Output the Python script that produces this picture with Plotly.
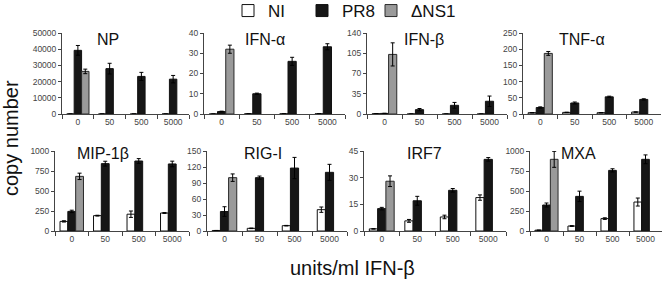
import plotly.graph_objects as go

doses = ["0", "50", "500", "5000"]
series_names = ["NI", "PR8", "ΔNS1"]

panels = ["NP", "IFN-α", "IFN-β", "TNF-α", "MIP-1β", "RIG-I", "IRF7", "MXA"]

# values per panel: NI, PR8, ΔNS1 (ΔNS1 only measured at dose 0)
np_ni = [0, 0, 0, 0]
np_pr8 = [39300, 28000, 23200, 21500]
np_dns1 = [26300, None, None, None]
np_ni_err = [0, 0, 0, 0]
np_pr8_err = [3000, 3300, 2500, 2300]
np_dns1_err = [1400, 0, 0, 0]

ifna_ni = [0, 0.1, 0.1, 0.1]
ifna_pr8 = [1.2, 10, 26, 33.2]
ifna_dns1 = [32, None, None, None]
ifna_ni_err = [0, 0, 0, 0]
ifna_pr8_err = [0.2, 0.3, 2, 1.5]
ifna_dns1_err = [2, 0, 0, 0]

ifnb_ni = [0.5, 0, 0, 0]
ifnb_pr8 = [1, 7.5, 15, 22]
ifnb_dns1 = [103, None, None, None]
ifnb_ni_err = [0, 0, 0, 0]
ifnb_pr8_err = [0.3, 2, 5, 9]
ifnb_dns1_err = [20, 0, 0, 0]

tnfa_ni = [4, 5, 4, 6]
tnfa_pr8 = [20, 34, 53, 45]
tnfa_dns1 = [187, None, None, None]
tnfa_ni_err = [0.5, 0.5, 0.5, 0.5]
tnfa_pr8_err = [2, 3, 2, 2]
tnfa_dns1_err = [6, 0, 0, 0]

mip_ni = [120, 192, 210, 225]
mip_pr8 = [245, 842, 875, 838]
mip_dns1 = [683, None, None, None]
mip_ni_err = [8, 5, 40, 5]
mip_pr8_err = [15, 30, 30, 35]
mip_dns1_err = [40, 0, 0, 0]

rig_ni = [1, 5, 10, 40]
rig_pr8 = [36.5, 100, 118, 110]
rig_dns1 = [100, None, None, None]
rig_ni_err = [0, 0.5, 0.5, 5]
rig_pr8_err = [9, 3, 20, 15]
rig_dns1_err = [7, 0, 0, 0]

irf_ni = [1.2, 5.7, 7.9, 18.8]
irf_pr8 = [12.6, 17, 22.9, 40.3]
irf_dns1 = [28, None, None, None]
irf_ni_err = [0.1, 0.8, 1, 1.5]
irf_pr8_err = [0.7, 2.5, 1, 1]
irf_dns1_err = [3, 0, 0, 0]

mxa_ni = [10, 62, 155, 362]
mxa_pr8 = [325, 433, 758, 896]
mxa_dns1 = [896, None, None, None]
mxa_ni_err = [0, 5, 10, 50]
mxa_pr8_err = [25, 65, 20, 55]
mxa_dns1_err = [100, 0, 0, 0]

y_max = [50000, 40, 140, 250, 1000, 150, 45, 1000]
y_dtick = [10000, 10, 35, 50, 250, 30, 15, 250]

panel_data = [
    (np_ni, np_pr8, np_dns1, np_ni_err, np_pr8_err, np_dns1_err),
    (ifna_ni, ifna_pr8, ifna_dns1, ifna_ni_err, ifna_pr8_err, ifna_dns1_err),
    (ifnb_ni, ifnb_pr8, ifnb_dns1, ifnb_ni_err, ifnb_pr8_err, ifnb_dns1_err),
    (tnfa_ni, tnfa_pr8, tnfa_dns1, tnfa_ni_err, tnfa_pr8_err, tnfa_dns1_err),
    (mip_ni, mip_pr8, mip_dns1, mip_ni_err, mip_pr8_err, mip_dns1_err),
    (rig_ni, rig_pr8, rig_dns1, rig_ni_err, rig_pr8_err, rig_dns1_err),
    (irf_ni, irf_pr8, irf_dns1, irf_ni_err, irf_pr8_err, irf_dns1_err),
    (mxa_ni, mxa_pr8, mxa_dns1, mxa_ni_err, mxa_pr8_err, mxa_dns1_err),
]

W, H = 662, 282
FONT = "Liberation Sans, Arial, sans-serif"

# pixel layout of each panel: (left, right, top, bottom)
px_boxes = [
    (62, 189, 33, 114), (204, 345, 33, 114), (367, 507, 33, 114), (523, 661, 33, 114),
    (55, 189, 151, 231), (207, 347, 151, 231), (364, 506, 151, 231), (530, 662, 151, 231),
]
# title positions (center x, center y) in px
title_pos = [(108, 40), (265, 39), (424, 39), (582, 39),
             (103, 153), (263, 153), (424, 153), (578, 153)]

fills = ["#ffffff", "#161616", "#9a9a9a"]
lines = ["#111111", "#111111", "#2a2a2a"]
legend_ids = ["legend", "legend2", "legend3"]
legend_x_px = [228, 302, 371]

fig = go.Figure()
layout = {}
for i, (vals) in enumerate(panel_data):
    ax = "" if i == 0 else str(i + 1)
    series = vals[:3]
    errs = vals[3:]
    for s in range(3):
        fig.add_trace(go.Bar(
            x=doses, y=series[s], name=series_names[s],
            marker=dict(color=fills[s], line=dict(color=lines[s], width=1)),
            error_y=dict(type="data", array=errs[s], visible=True,
                         color="#000000", thickness=1, width=2),
            xaxis="x" + ax, yaxis="y" + ax,
            showlegend=(i == 0), legendgroup=series_names[s], legend=legend_ids[s],
        ))
    l, r, t, b = px_boxes[i]
    layout["xaxis" + ax] = dict(
        domain=[l / W, r / W], anchor="y" + ax, type="category",
        categoryorder="array", categoryarray=doses,
        showline=True, linecolor="#444", linewidth=1,
        ticks="outside", tickson="boundaries", ticklen=4, tickcolor="#444",
        tickfont=dict(family=FONT, size=8.5, color="#444"),
        showgrid=False, zeroline=False, fixedrange=True, automargin=False,
    )
    layout["yaxis" + ax] = dict(
        domain=[1 - b / H, 1 - t / H], anchor="x" + ax,
        range=[0, y_max[i]], dtick=y_dtick[i], tick0=0, tickformat="d",
        showline=True, linecolor="#444", linewidth=1,
        ticks="outside", ticklen=3, tickcolor="#444",
        tickfont=dict(family=FONT, size=8.5, color="#444"),
        showgrid=False, zeroline=False, fixedrange=True, automargin=False,
    )

for k, lid in enumerate(legend_ids):
    layout[lid] = dict(orientation="h", x=legend_x_px[k] / W, xref="container",
                       y=1 - 11 / H, yref="container", xanchor="left", yanchor="middle",
                       font=dict(family=FONT, size=17, color="#111"),
                       itemwidth=30, bgcolor="rgba(0,0,0,0)", borderwidth=0)

annotations = []
for i, name in enumerate(panels):
    cx, cy = title_pos[i]
    annotations.append(dict(text=name, x=cx / W, y=1 - cy / H, xref="paper", yref="paper",
                            showarrow=False, xanchor="center", yanchor="middle",
                            font=dict(family=FONT, size=16, color="#111")))
annotations.append(dict(text="copy number", x=11 / W, y=1 - 138 / H, xref="paper", yref="paper",
                        showarrow=False, textangle=-90, xanchor="center", yanchor="middle",
                        font=dict(family=FONT, size=20, color="#111")))
annotations.append(dict(text="units/ml IFN-β", x=353 / W, y=1 - 268 / H, xref="paper", yref="paper",
                        showarrow=False, xanchor="center", yanchor="middle",
                        font=dict(family=FONT, size=20, color="#111")))

fig.update_layout(
    width=W, height=H,
    margin=dict(l=0, r=0, t=0, b=0, autoexpand=False),
    paper_bgcolor="white", plot_bgcolor="white",
    barmode="group", bargap=0.3, bargroupgap=0,
    showlegend=True,
    annotations=annotations,
    **layout,
)

fig.write_html("out.html", config={"displayModeBar": False},
               post_script="document.body.style.margin='0';")
